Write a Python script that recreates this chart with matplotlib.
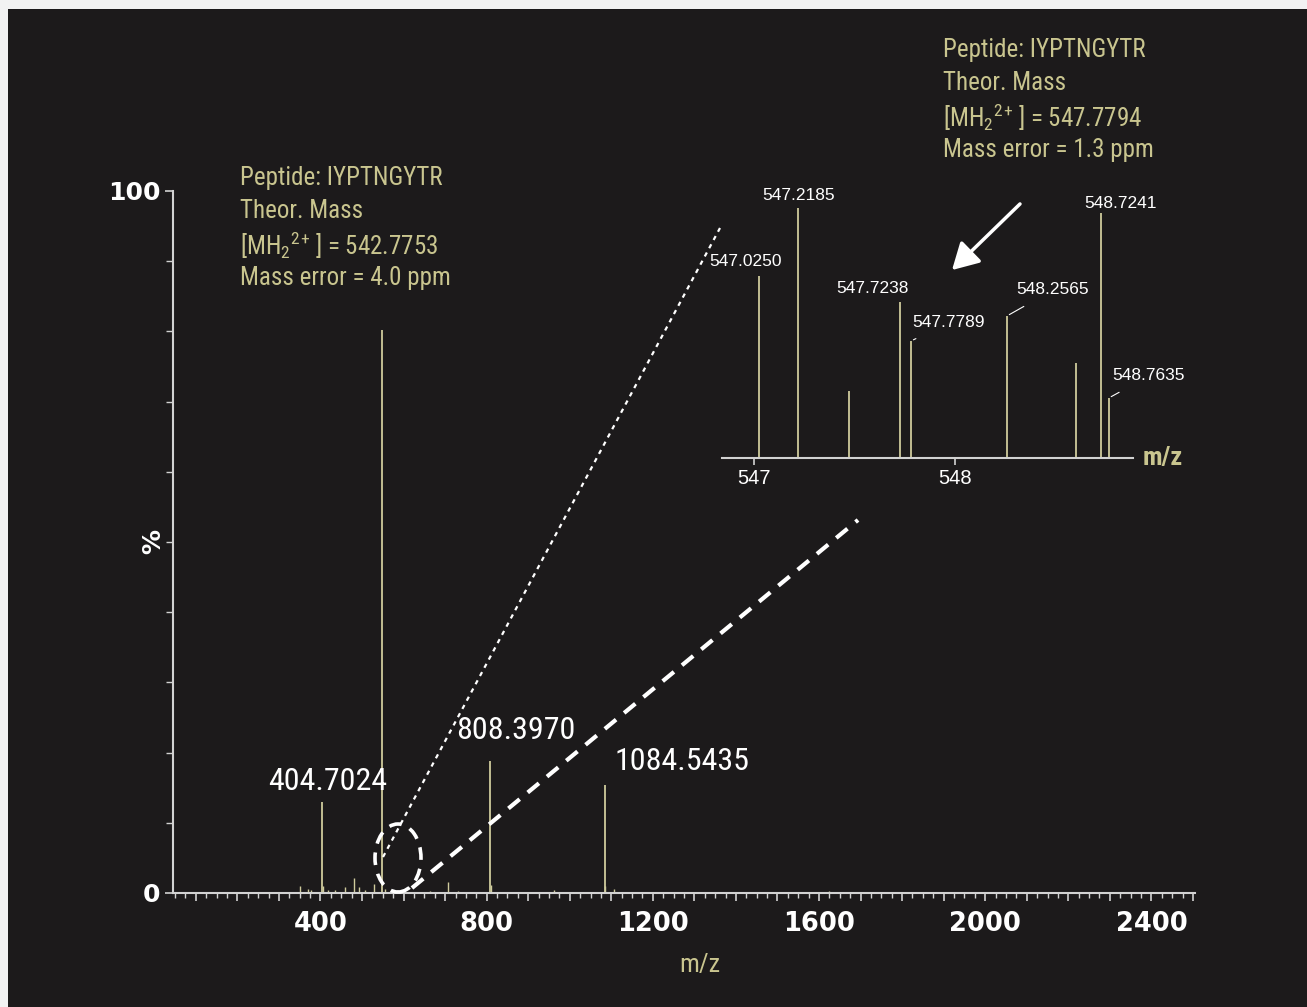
import matplotlib
matplotlib.use("Agg")
import matplotlib.pyplot as plt
from matplotlib import font_manager as fm
from matplotlib.patches import Rectangle, Ellipse, FancyArrowPatch
from matplotlib.lines import Line2D
from matplotlib.ticker import MultipleLocator, FuncFormatter, FixedLocator

# ---------------- data ----------------
main_mz = [404.7024, 547.7789, 808.3970, 1084.5435]
main_int = [13.0, 80.2, 18.8, 15.4]
main_labels = ["404.7024", None, "808.3970", "1084.5435"]

minor_mz = [351, 369, 376, 405.2, 419, 434, 460, 480, 492, 506, 528, 556,
            664, 707, 732, 809.4, 961, 1085.5, 1106, 1624]
minor_int = [1.0, 0.5, 0.4, 1.0, 0.4, 0.4, 0.9, 2.2, 0.8, 0.4, 1.3, 0.5,
             0.3, 1.6, 0.3, 1.2, 0.4, 1.0, 0.5, 0.3]

inset_mz = [547.0250, 547.2185, 547.473, 547.7238, 547.7789, 548.2565,
            548.600, 548.7241, 548.7635]
inset_int = [72.6, 100.0, 26.6, 62.4, 46.8, 56.8, 38.0, 98.0, 24.0]
inset_labels = ["547.0250", "547.2185", None, "547.7238", "547.7789",
                "548.2565", None, "548.7241", "548.7635"]

main_xticks = [400, 800, 1200, 1600, 2000, 2400]
inset_xticks = [547, 548]

ann_left = ["Peptide: IYPTNGYTR", "Theor. Mass",
            r"[MH$_2$$^{2}$$^{+}$ ] = 542.7753", "Mass error = 4.0 ppm"]
ann_right = ["Peptide: IYPTNGYTR", "Theor. Mass",
             r"[MH$_2$$^{2}$$^{+}$ ] = 547.7794", "Mass error = 1.3 ppm"]

# ---------------- style ----------------
W, H = 1307, 1007
BG = "#1c1a1b"
PEAK = "#cfcb9c"
OLIVE = "#c9c58f"
AXC = "#d2d2d2"

names = {f.name for f in fm.fontManager.ttflist}
def pick(cands, default="DejaVu Sans"):
    for c in cands:
        if c in names:
            return c
    return default

NARROW = pick(["Roboto Condensed", "Liberation Sans Narrow", "Archivo Narrow",
               "Barlow Condensed", "Liberation Sans"])
REG = pick(["Liberation Sans", "Roboto", "DejaVu Sans"])

plt.rcParams["mathtext.fontset"] = "custom"
plt.rcParams["mathtext.rm"] = NARROW
plt.rcParams["mathtext.it"] = NARROW
plt.rcParams["mathtext.bf"] = NARROW

def fx(x):
    return x / W
def fy(y):
    return 1 - y / H

fig = plt.figure(figsize=(W / 100, H / 100), dpi=100, facecolor="#f2f2f2")
fig.patches.append(Rectangle((fx(8), 0), 1 - fx(8), fy(9), transform=fig.transFigure,
                             facecolor=BG, edgecolor="none", zorder=-10))

# ---------------- main axes ----------------
ax = fig.add_axes([fx(173), fy(893), fx(1195) - fx(173), fy(191) - fy(893)])
ax.set_facecolor("none")
ax.set_xlim(45, 2505)
ax.set_ylim(0, 100)
for s in ["top", "right"]:
    ax.spines[s].set_visible(False)
for s in ["left", "bottom"]:
    ax.spines[s].set_color(AXC)
    ax.spines[s].set_linewidth(1.5)

ax.vlines(minor_mz, 0, minor_int, color=PEAK, lw=1.0)
ax.vlines(main_mz, 0, main_int, color=PEAK, lw=1.3)

offsets = {"404.7024": (5, 20), "808.3970": (26, 31), "1084.5435": (77, 23)}
for mz, it, lab in zip(main_mz, main_int, main_labels):
    if lab:
        dx, dy = offsets[lab]
        ax.annotate(lab, (mz, it), xytext=(dx, dy), textcoords="offset pixels",
                    ha="center", va="center", color="white", fontsize=23,
                    family=NARROW)

ax.xaxis.set_major_locator(MultipleLocator(100))
ax.xaxis.set_minor_locator(MultipleLocator(25))
ax.xaxis.set_major_formatter(FuncFormatter(
    lambda v, p: f"{int(round(v))}" if int(round(v)) in main_xticks else ""))
ax.yaxis.set_major_locator(FixedLocator([0, 100]))
ax.yaxis.set_minor_locator(MultipleLocator(10))
ax.tick_params(axis="x", which="major", direction="out", length=6, width=1.2,
               color=AXC, labelcolor="white", labelsize=18.5, pad=7)
ax.tick_params(axis="x", which="minor", direction="out", length=3.5, width=1.0,
               color=AXC)
ax.tick_params(axis="y", which="major", direction="out", length=6, width=1.2,
               color=AXC, labelcolor="white", labelsize=18, pad=3)
ax.tick_params(axis="y", which="minor", direction="out", length=5, width=1.0,
               color=AXC)
for t in ax.get_xticklabels() + ax.get_yticklabels():
    t.set_fontweight("bold")

ax.set_xlabel("m/z", color=OLIVE, fontsize=19, family=NARROW)
ax.xaxis.set_label_coords((700 - 173) / 1022, (893 - 953) / 702)
ax.set_ylabel("%", color="white", fontsize=18, fontweight="bold", rotation=90)
ax.yaxis.set_label_coords((165 - 173) / 1022, 0.5)

# annotation blocks
for i, line in enumerate(ann_left):
    fig.text(fx(240), fy(178 + 33.5 * i), line, color=OLIVE, fontsize=18,
             family=NARROW, ha="left", va="center")
for i, line in enumerate(ann_right):
    fig.text(fx(943), fy(50 + 33.5 * i), line, color=OLIVE, fontsize=18,
             family=NARROW, ha="left", va="center")

# ---------------- inset ----------------
ix0 = 546.839
ix1 = 548.884
ins = fig.add_axes([fx(722), fy(458), fx(1133) - fx(722), fy(208) - fy(458)])
ins.set_facecolor("none")
ins.set_xlim(ix0, ix1)
ins.set_ylim(0, 100)
for s in ["top", "right", "left"]:
    ins.spines[s].set_visible(False)
ins.spines["bottom"].set_color(AXC)
ins.spines["bottom"].set_linewidth(1.5)
ins.set_yticks([])
ins.set_xticks(inset_xticks)
ins.set_xticklabels([str(v) for v in inset_xticks])
ins.tick_params(axis="x", direction="out", length=5, width=1.2, color=AXC,
                labelcolor="white", labelsize=14.5, pad=3)
for t in ins.get_xticklabels():
    t.set_family(REG)
ins.vlines(inset_mz, 0, inset_int, color=PEAK, lw=1.3)

ioff = {"547.0250": (-14, 15, False), "547.2185": (0, 12, False),
        "547.7238": (-27, 13, False), "547.7789": (38, 18, True),
        "548.2565": (46, 26, True), "548.7241": (20, 9, False),
        "548.7635": (40, 22, True)}
for mz, it, lab in zip(inset_mz, inset_int, inset_labels):
    if lab:
        dx, dy, lead = ioff[lab]
        kw = {}
        if lead:
            kw["arrowprops"] = dict(arrowstyle="-", color="white", lw=0.8,
                                    shrinkA=9, shrinkB=2)
        ins.annotate(lab, (mz, it), xytext=(dx, dy), textcoords="offset pixels",
                     ha="center", va="center", color="white", fontsize=12.5,
                     family=REG, **kw)
ins.text(1.073, 0.0, "m/z", transform=ins.transAxes, color=OLIVE, fontsize=19,
         fontweight="bold", family=NARROW, ha="center", va="center")

# ---------------- zoom decorations ----------------
fig.lines.append(Line2D([fx(383), fx(720)], [fy(857), fy(228)], transform=fig.transFigure,
                        color="white", lw=1.6, linestyle=(0, (2, 2.2)), zorder=5))
fig.lines.append(Line2D([fx(412), fx(858)], [fy(888), fy(520)], transform=fig.transFigure,
                        color="white", lw=3, linestyle=(0, (3.5, 2.5)), zorder=5))
fig.patches.append(Ellipse((fx(398), fy(858)), 46 / W, 68 / H, transform=fig.transFigure,
                           facecolor="none", edgecolor="white", lw=2.6,
                           linestyle=(0, (3.5, 2.5)), zorder=5))
fig.add_artist(FancyArrowPatch(
    (fx(1022), fy(202)), (fx(950), fy(272)), transform=fig.transFigure,
    arrowstyle="-|>,head_length=8,head_width=4.5", color="white", lw=2.5,
    mutation_scale=2))

fig.savefig("out.png", dpi=100, facecolor=fig.get_facecolor())
